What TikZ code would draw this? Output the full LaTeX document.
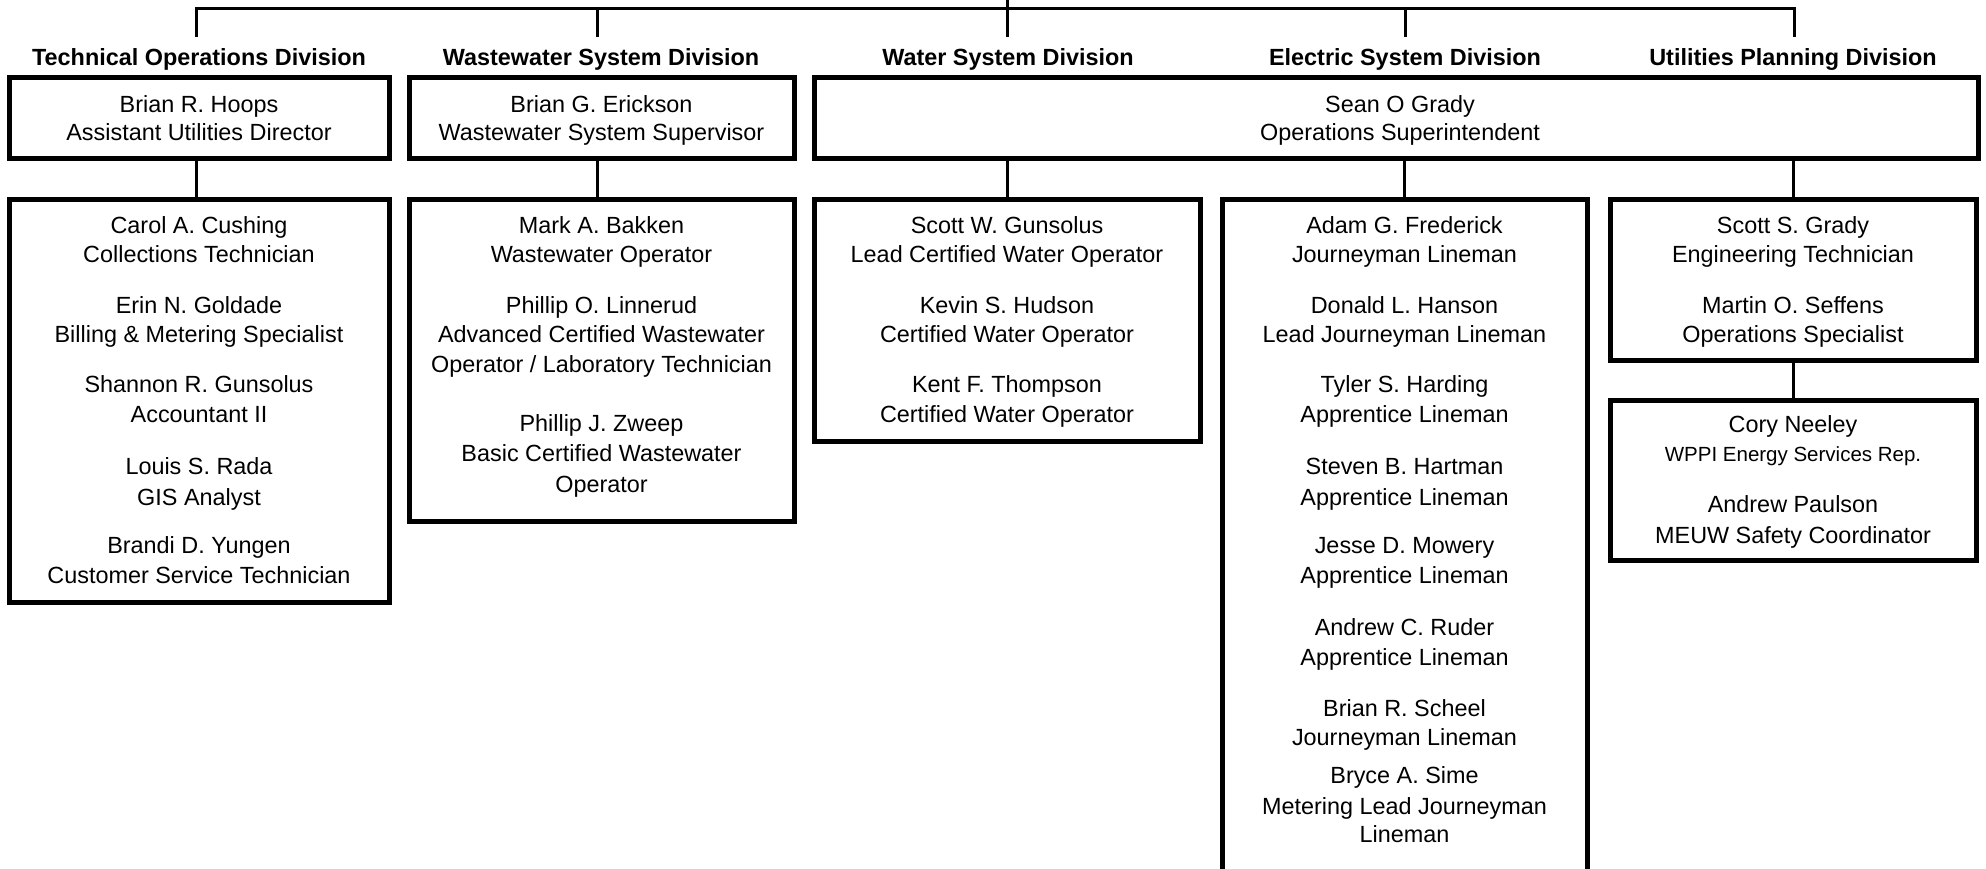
\documentclass[tikz,border=0pt]{standalone}
\usepackage{fontspec}
\setmainfont{Liberation Sans}
\begin{document}
\begin{tikzpicture}[x=1pt,y=-1pt,
  box/.style={draw, line width=5pt, inner sep=0pt, fill=none},
  conn/.style={line width=3pt, line join=miter},
  txt/.style={inner sep=0pt, anchor=base, font=\fontsize{23.4}{28}\selectfont},
  smalltxt/.style={inner sep=0pt, anchor=base, font=\fontsize{20.5}{24}\selectfont},
  lbl/.style={inner sep=0pt, anchor=base, font=\bfseries\fontsize{23.4}{28}\selectfont}]
\useasboundingbox (0,0) rectangle (1986,868);
\clip (0,0) rectangle (1986,868);

% division labels
\node[lbl] (dT) at (199,65) {Technical Operations Division};
\node[lbl] (dW) at (601,65) {Wastewater System Division};
\node[lbl] (dA) at (1008,65) {Water System Division};
\node[lbl] (dE) at (1405,65) {Electric System Division};
\node[lbl] (dU) at (1793,65) {Utilities Planning Division};

% top boxes
\node[box, minimum width=380pt, minimum height=81pt] (top1) at (199,117.5) {};
\node[box, minimum width=385pt, minimum height=81pt] (top2) at (601.5,117.5) {};
\node[box, minimum width=1164pt, minimum height=81pt] (big) at (1396,117.5) {};

% sub boxes
\node[box, minimum width=380pt, minimum height=403pt] (sub1) at (199,400.5) {};
\node[box, minimum width=385pt, minimum height=322pt] (sub2) at (601.5,360) {};
\node[box, minimum width=386pt, minimum height=242pt] (sub3) at (1007,320) {};
\node[box, minimum width=365pt, minimum height=701pt] (sub4) at (1404.5,549.5) {};
\node[box, minimum width=366pt, minimum height=161pt] (sub5) at (1793,279.5) {};
\node[box, minimum width=366pt, minimum height=160pt] (sub6) at (1793,480) {};

% bus
\coordinate (root) at (1007,0);
\coordinate (bT) at (196,8);
\coordinate (bW) at (597,8);
\coordinate (bA) at (1007,8);
\coordinate (bE) at (1405,8);
\coordinate (bU) at (1794,8);
\coordinate (eT) at (196,37);
\coordinate (eW) at (597,37);
\coordinate (eA) at (1007,37);
\coordinate (eE) at (1405,37);
\coordinate (eU) at (1794,37);
\draw[conn] (eT) -- (bT) -- (bU) -- (eU);
\draw[conn] (bW) -- (eW);
\draw[conn] (root) -- (eA);
\draw[conn] (bE) -- (eE);

% connectors
\draw[conn] (top1.south -| eT) -- (sub1.north -| eT);
\draw[conn] (top2.south -| eW) -- (sub2.north -| eW);
\draw[conn] (big.south -| sub3.north) -- (sub3.north);
\draw[conn] (big.south -| sub4.north) -- (sub4.north);
\draw[conn] (big.south -| sub5.north) -- (sub5.north);
\draw[conn] (sub5.south) -- (sub6.north);

% top box texts
\node[txt] (h1a) at (199,112) {Brian R. Hoops};
\node[txt] (h1b) at (199,140) {Assistant Utilities Director};
\node[txt] (h2a) at (601.5,112) {Brian G. Erickson};
\node[txt] (h2b) at (601.5,140) {Wastewater System Supervisor};
\node[txt] (h3a) at (1400,112) {Sean O Grady};
\node[txt] (h3b) at (1400,140) {Operations Superintendent};

% technical
\foreach \n/\yy/\t in {a/233/{Carol A. Cushing}, b/262/{Collections Technician},
  c/313/{Erin N. Goldade}, d/342/{Billing \& Metering Specialist},
  e/392/{Shannon R. Gunsolus}, f/422/{Accountant II},
  g/474/{Louis S. Rada}, h/505/{GIS Analyst},
  i/553/{Brandi D. Yungen}, j/583/{Customer Service Technician}}
  \node[txt] (t\n) at (199,\yy) {\t};

% wastewater
\foreach \n/\yy/\t in {a/233/{Mark A. Bakken}, b/262/{Wastewater Operator},
  c/313/{Phillip O. Linnerud}, d/342/{Advanced Certified Wastewater},
  e/372/{Operator / Laboratory Technician},
  f/431/{Phillip J. Zweep}, g/461/{Basic Certified Wastewater}, h/492/{Operator}}
  \node[txt] (w\n) at (601.5,\yy) {\t};

% water
\foreach \n/\yy/\t in {a/233/{Scott W. Gunsolus}, b/262/{Lead Certified Water Operator},
  c/313/{Kevin S. Hudson}, d/342/{Certified Water Operator},
  e/392/{Kent F. Thompson}, f/422/{Certified Water Operator}}
  \node[txt] (a\n) at (1007,\yy) {\t};

% electric
\foreach \n/\yy/\t in {a/233/{Adam G. Frederick}, b/262/{Journeyman Lineman},
  c/313/{Donald L. Hanson}, d/342/{Lead Journeyman Lineman},
  e/392/{Tyler S. Harding}, f/422/{Apprentice Lineman},
  g/474/{Steven B. Hartman}, h/505/{Apprentice Lineman},
  i/553/{Jesse D. Mowery}, j/583/{Apprentice Lineman},
  k/635/{Andrew C. Ruder}, l/665/{Apprentice Lineman},
  m/716/{Brian R. Scheel}, n/745/{Journeyman Lineman},
  o/783/{Bryce A. Sime}, p/814/{Metering Lead Journeyman}, q/842/{Lineman}}
  \node[txt] (e\n) at (1404.5,\yy) {\t};

% planning
\foreach \n/\yy/\t in {a/233/{Scott S. Grady}, b/262/{Engineering Technician},
  c/313/{Martin O. Seffens}, d/342/{Operations Specialist},
  e/432/{Cory Neeley}, g/512/{Andrew Paulson}, h/543/{MEUW Safety Coordinator}}
  \node[txt] (u\n) at (1793,\yy) {\t};
\node[smalltxt] (uf) at (1793,461) {WPPI Energy Services Rep.};
\end{tikzpicture}
\end{document}
